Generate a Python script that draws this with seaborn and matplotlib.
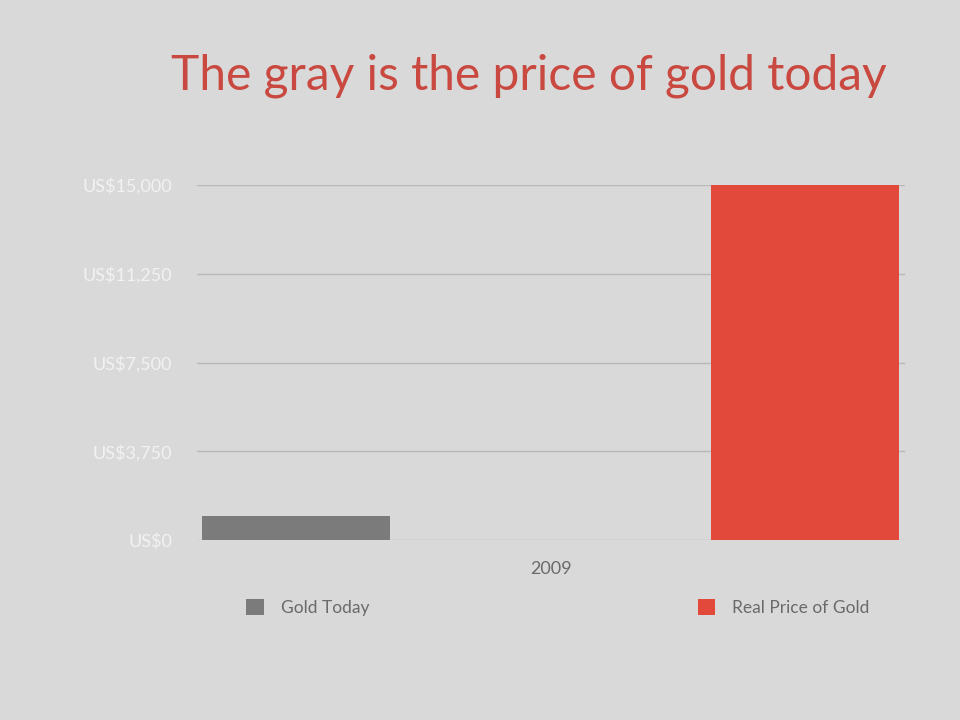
import matplotlib
matplotlib.use("Agg")
import matplotlib.pyplot as plt
import seaborn as sns
import pandas as pd

series = ["Gold Today", "Real Price of Gold"]
prices = [1000, 15000]
year = "2009"
y_ticks = [0, 3750, 7500, 11250, 15000]
y_tick_labels = ["US$0", "US$3,750", "US$7,500", "US$11,250", "US$15,000"]
colors = ["#7b7b7b", "#e2493b"]

sns.set_theme(style="whitegrid")
plt.rcParams["font.family"] = ["Lato", "DejaVu Sans"]

df = pd.DataFrame({"series": series, "price": prices})

bg = "#d9d9d9"
fig = plt.figure(figsize=(9.6, 7.2), dpi=100, facecolor=bg)
ax = fig.add_axes([197 / 960, 1 - 540 / 720, 708 / 960, 355 / 720])
ax.set_facecolor(bg)

sns.barplot(data=df, x="series", y="price", hue="series", order=series,
            hue_order=series, palette=colors, width=0.37, dodge=False,
            legend=True, saturation=1, linewidth=0, ax=ax)

ax.set_xlim(-0.195, 1.196)
ax.set_ylim(0, 15000)
ax.set_yticks(y_ticks)
ax.set_yticklabels(y_tick_labels, color="#f2f2f2", fontsize=13)
ax.set_xticks([0.5])
ax.set_xticklabels([year], color="#6a6a6a", fontsize=13)
ax.set_xlabel("")
ax.set_ylabel("")
ax.tick_params(axis="y", pad=18, length=0)
ax.tick_params(axis="x", pad=15, length=0)
ax.grid(axis="y", color="#b9b9b9", linewidth=1)
ax.grid(axis="x", visible=False)
for s in ax.spines.values():
    s.set_visible(False)
ax.set_axisbelow(True)

handles, labels = ax.get_legend_handles_labels()
ax.legend(handles, labels, loc="center left", ncol=2, mode="expand",
          bbox_to_anchor=(0.06, -0.215, 0.9, 0.05), frameon=False,
          fontsize=12.5, labelcolor="#6a6a6a", handlelength=1.0,
          handleheight=1.0, handletextpad=1.0, borderaxespad=0)

fig.text(529 / 960, 1 - 76 / 720, "The gray is the price of gold today",
         ha="center", va="center", color="#c9483f", fontsize=34.5)

fig.savefig("out.png", dpi=100, facecolor=bg)
